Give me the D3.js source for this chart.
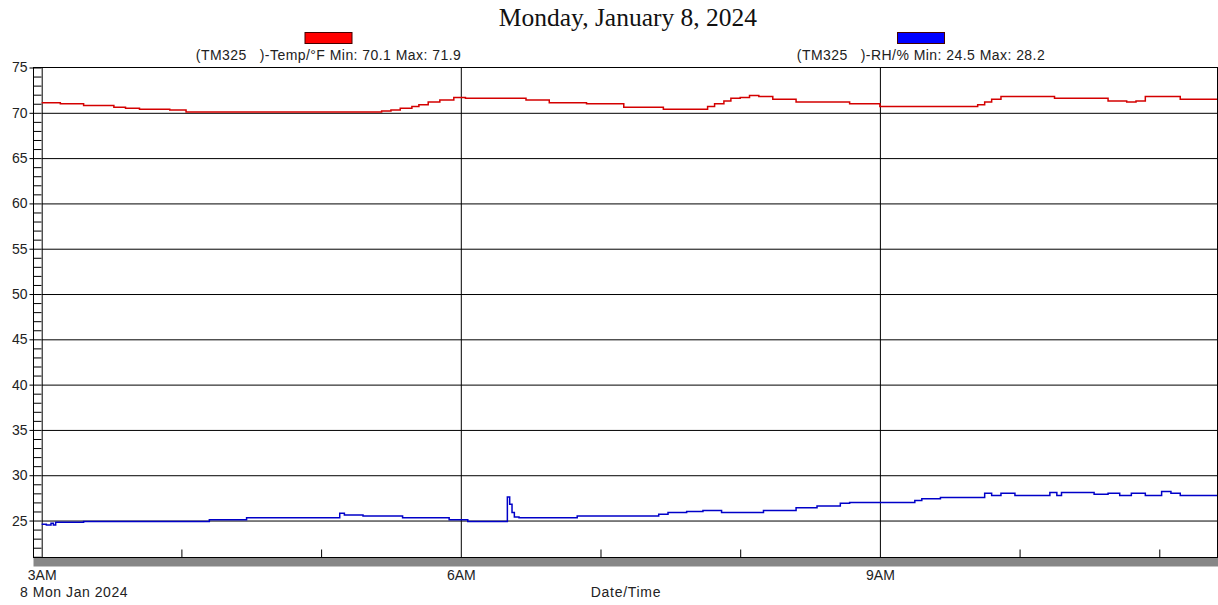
<!DOCTYPE html>
<html lang="en">
<head>
<meta charset="utf-8">
<title>Monday, January 8, 2024</title>
<script src="https://cdn.jsdelivr.net/npm/d3@7"></script>
<style>
  body { margin: 0; background: #fff; }
  text { font-family: "Liberation Sans", Arial, sans-serif; fill: #222; }
</style>
</head>
<body>
<script>
// readings, step values (time of change -> new value)
const tempTimes = ["03:00","03:08","03:18","03:31","03:36","03:42","03:55","04:02","05:26","05:30","05:34","05:39","05:42","05:46","05:51","05:57","06:02","06:28","06:38","06:54","07:10","07:27","07:46","07:49","07:53","07:56","08:00","08:04","08:08","08:14","08:24","08:47","09:00","09:42","09:45","09:48","09:52","10:15","10:38","10:46","10:50","10:54","11:09","11:25"];
const tempValues = [71.1,71.0,70.8,70.6,70.5,70.4,70.3,70.1,70.2,70.3,70.5,70.7,70.9,71.2,71.4,71.7,71.6,71.4,71.1,71.0,70.6,70.4,70.7,71.0,71.3,71.6,71.7,71.9,71.8,71.5,71.2,71.0,70.7,70.9,71.2,71.5,71.8,71.6,71.3,71.2,71.3,71.8,71.5,71.5];

const rhTimes = ["03:00","03:02","03:04","03:05","03:06","03:18","04:12","04:28","05:08","05:10","05:18","05:35","05:55","06:03","06:20","06:21","06:22","06:23","06:25","06:50","07:25","07:29","07:37","07:44","07:52","08:10","08:24","08:33","08:43","08:47","09:15","09:18","09:26","09:45","09:48","09:52","09:58","10:13","10:16","10:18","10:32","10:38","10:43","10:48","10:54","11:01","11:05","11:09","11:25"];
const rhValues = [24.6,24.5,24.7,24.5,24.8,24.9,25.1,25.3,25.8,25.6,25.5,25.3,25.1,24.9,27.6,26.8,25.9,25.4,25.3,25.5,25.7,25.9,26.0,26.1,25.9,26.1,26.4,26.6,26.9,27.0,27.2,27.4,27.55,28.0,27.75,28.0,27.75,28.1,27.75,28.1,27.9,28.0,27.75,28.0,27.75,28.2,28.0,27.75,27.75];

const yTicks = [25,30,35,40,45,50,55,60,65,70,75];
const yGrid = [25,30,35,40,45,50,55,60,65,70];
const majorHours = ["03:00","06:00","09:00"];
const minorHours = ["04:00","05:00","07:00","08:00","10:00","11:00"];
const timeStart = "03:00", timeEnd = "11:25";

const titleText = "Monday, January 8, 2024";
const legendTexts = ["(TM325   )-Temp/°F Min: 70.1 Max: 71.9", "(TM325   )-RH/% Min: 24.5 Max: 28.2"];
const legendColors = ["#ff0000", "#0000ff"];
const lineColors = ["#d40000", "#0000c8"];

const w = 1218, h = 605;
const axisX = 33.5, plotL = 41.7, plotR = 1217.5, plotT = 67.5, plotB = 557.5;
const sans = "'Liberation Sans', Arial, sans-serif";

const parse = d3.timeParse("%Y-%m-%d %H:%M");
const t = s => parse("2024-01-08 " + s);

const x = d3.scaleTime().domain([t(timeStart), t(timeEnd)]).range([plotL, plotR]);
const y = d3.scaleLinear().domain([20.92, 75]).range([plotB, plotT]);

const svg = d3.select("body").append("svg").attr("width", w).attr("height", h);

// title
svg.append("text").attr("x", 628).attr("y", 26).attr("text-anchor", "middle")
  .style("font-family", "'Liberation Serif', 'Times New Roman', serif").style("font-size", "25.5px").style("fill", "#111")
  .text(titleText);

// legend
const legendCx = [328.5, 921];
legendTexts.forEach((s, i) => {
  svg.append("rect").attr("x", legendCx[i] - 23.5).attr("y", 32.5).attr("width", 47).attr("height", 11)
    .attr("fill", legendColors[i]).attr("stroke", "#400").attr("stroke-width", 1);
  svg.append("text").attr("x", legendCx[i]).attr("y", 60).attr("text-anchor", "middle")
    .attr("xml:space", "preserve").style("white-space", "pre").style("font-size", "14px")
    .style("letter-spacing", "0.45px")
    .text(s);
});

// gray band below plot
svg.append("rect").attr("x", axisX).attr("y", plotB).attr("width", w - axisX).attr("height", 9).attr("fill", "#878787");

// horizontal grid
svg.append("g").attr("transform", `translate(${plotL},0)`)
  .call(d3.axisLeft(y).tickValues(yGrid).tickSize(-(plotR - plotL)).tickFormat(""))
  .call(g => g.select(".domain").remove())
  .call(g => g.selectAll("line").attr("stroke", "#000"));

// vertical grid at major hours
svg.append("g").attr("transform", `translate(0,${plotB})`)
  .call(d3.axisBottom(x).tickValues(majorHours.map(t)).tickSize(-(plotB - plotT)).tickFormat(""))
  .call(g => g.select(".domain").remove())
  .call(g => g.selectAll("line").attr("stroke", "#000"));

// minor hour ticks
svg.append("g").attr("transform", `translate(0,${plotB})`)
  .call(d3.axisTop(x).tickValues(minorHours.map(t)).tickSize(8).tickFormat(""))
  .call(g => g.select(".domain").remove())
  .call(g => g.selectAll("line").attr("stroke", "#000"));

// series
const line = d3.line().curve(d3.curveStepAfter).x(d => x(d[0])).y(d => y(d[1]));
const series = [
  d3.zip(tempTimes.map(t), tempValues),
  d3.zip(rhTimes.map(t), rhValues)
];
series.forEach((d, i) => {
  svg.append("path").datum(d).attr("d", line).attr("fill", "none")
    .attr("stroke", lineColors[i]).attr("stroke-width", 1.5);
});

// frame
svg.append("rect").attr("x", axisX).attr("y", plotT).attr("width", plotR - axisX).attr("height", plotB - plotT)
  .attr("fill", "none").attr("stroke", "#000").attr("stroke-width", 1);

// y axis: major ticks + labels
svg.append("g").attr("transform", `translate(${axisX},0)`)
  .call(d3.axisLeft(y).tickValues(yTicks).tickSize(4).tickSizeOuter(0).tickPadding(2))
  .call(g => g.select(".domain").remove())
  .call(g => g.selectAll("line").attr("stroke", "#000"))
  .call(g => g.selectAll("text").style("font-size", "14px").style("font-family", sans).attr("fill", "#222"));

// y axis: minor ticks each unit
svg.append("g").attr("transform", `translate(${axisX},0)`)
  .call(d3.axisRight(y).tickValues(d3.range(21, 76)).tickSize(8).tickFormat(""))
  .call(g => g.select(".domain").remove())
  .call(g => g.selectAll("line").attr("stroke", "#000"));

// x labels
svg.append("g").attr("transform", `translate(0,${plotB + 9})`)
  .call(d3.axisBottom(x).tickValues(majorHours.map(t)).tickSize(0).tickPadding(4).tickFormat(d3.timeFormat("%-I%p")))
  .call(g => g.select(".domain").remove())
  .call(g => g.selectAll("text").style("font-size", "14px").style("font-family", sans).attr("fill", "#222"));

svg.append("text").attr("x", 20).attr("y", 597).style("font-size", "14px").style("letter-spacing", "0.55px").text("8 Mon Jan 2024");
svg.append("text").attr("x", 626).attr("y", 597).attr("text-anchor", "middle").style("font-size", "14px").style("letter-spacing", "0.7px").text("Date/Time");
</script>
</body>
</html>
